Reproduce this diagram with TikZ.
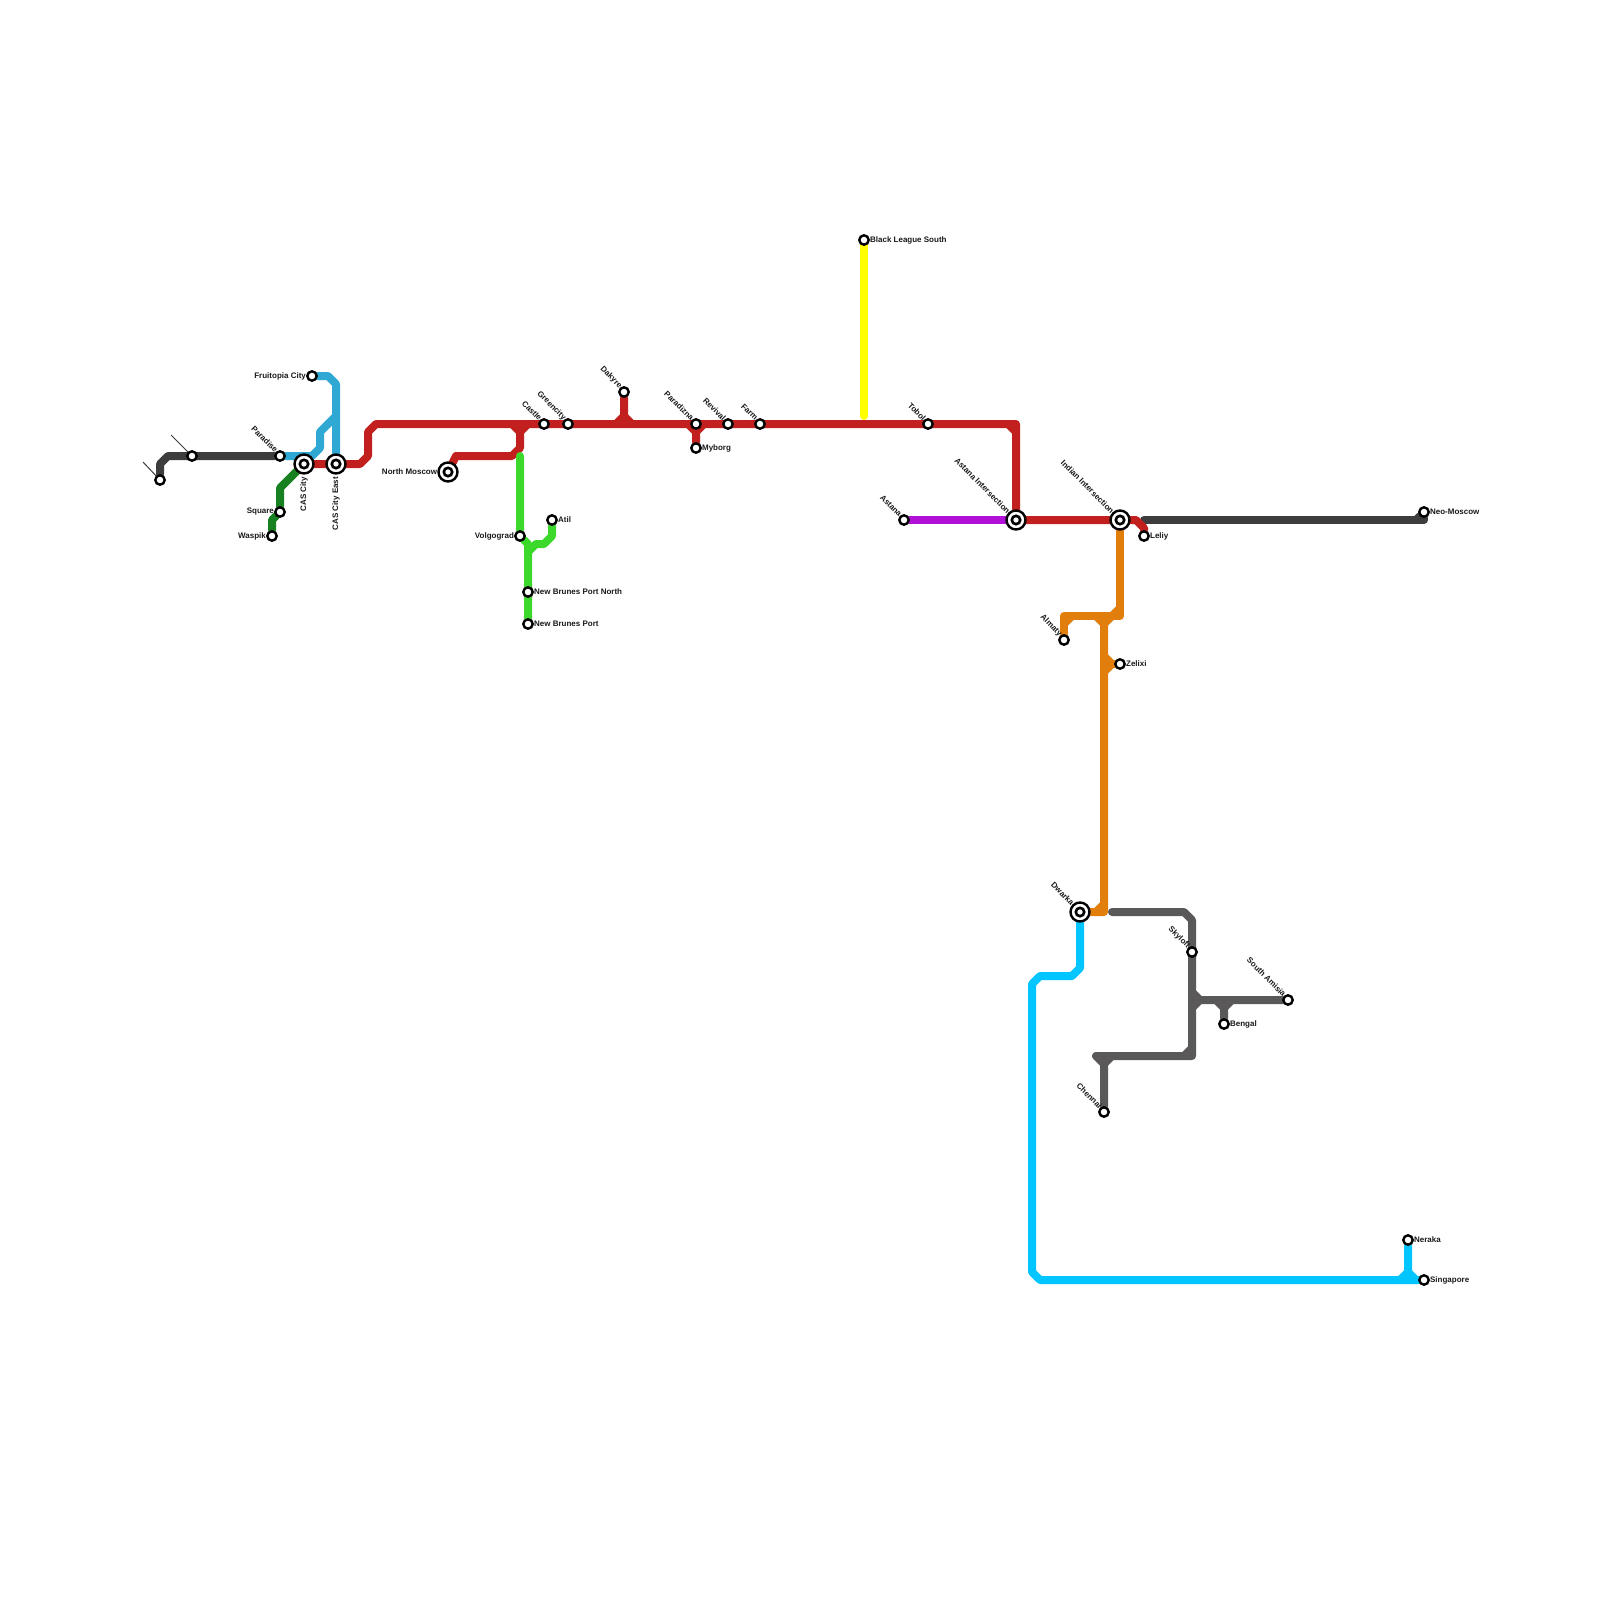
\documentclass[tikz,border=0pt]{standalone}
\usepackage{fontspec}
\usepackage{xcolor}
\setsansfont{Liberation Sans}
\usetikzlibrary{backgrounds}

\definecolor{lineCoal}{HTML}{3D3D3D}
\definecolor{lineGrey}{HTML}{5A5859}
\definecolor{lineBlue}{HTML}{2FA8D3}
\definecolor{lineForest}{HTML}{178020}
\definecolor{lineRed}{HTML}{C21F1F}
\definecolor{lineLime}{HTML}{3DD82C}
\definecolor{lineYellow}{HTML}{FFFF00}
\definecolor{linePurple}{HTML}{B010D8}
\definecolor{lineOrange}{HTML}{E27F0C}
\definecolor{lineCyan}{HTML}{00C5FF}

\tikzset{
    metro/.style={line width=8pt, line join=round, line cap=round},
    stop/.style={circle, draw=black, fill=white, line width=2.4pt, inner sep=0pt, minimum size=9.4pt},
    hub/.style={circle, draw=black, fill=white, line width=2.4pt, inner sep=0pt, minimum size=19pt,
        path picture={\draw[line width=2.6pt, black] (path picture bounding box.center) circle (4.2pt);}},
    lbl/.style={font=\sffamily\bfseries\fontsize{8}{8}\selectfont, text=black!90, inner sep=0pt},
    lblE/.style={label distance=1.3pt, label={[lbl, anchor=west]0:#1}},
    lblW/.style={label distance=2pt, label={[lbl, anchor=east]180:#1}},
    lblNW/.style={label distance=2pt, label={[lbl, rotate=-45, anchor=east]125:#1}},
    lblHub/.style={label distance=2.5pt, label={[lbl, rotate=-45, anchor=east]132:#1}},
    lblS/.style={label distance=3pt, label={[lbl, rotate=90, anchor=east, xshift=-2pt]-90:#1}},
}

\begin{document}
\begin{tikzpicture}[x=1pt, y=-1pt]
    \useasboundingbox (0,0) rectangle (1600,1600);

    % plain stops
    \node[stop] (farWest) at (160,480) {};
    \node[stop] (west) at (192,456) {};
    \foreach \x/\y/\name/\txt in {568/424/greencity/Greencity, 544/424/castle/Castle, 280/456/paradise/Paradise,
        624/392/dakyre/Dakyre, 696/424/paradizna/Paradizna, 728/424/revival/Revival, 760/424/farm/Farm,
        928/424/tobol/Tobol, 904/520/astana/Astana, 1064/640/almaty/Almaty, 1192/952/skyloft/Skyloft,
        1288/1000/amisia/South Amisia, 1104/1112/chennai/Chennai} {
        \node[stop, lblNW=\txt] (\name) at (\x,\y) {};
    }
    \foreach \x/\y/\name/\txt in {696/448/myborg/Myborg, 552/520/atil/Atil, 528/592/brunesNorth/New Brunes Port North,
        528/624/brunes/New Brunes Port, 864/240/league/Black League South, 1144/536/leliy/Leliy, 1120/664/zelixi/Zelixi,
        1424/512/neo/Neo-Moscow, 1224/1024/bengal/Bengal, 1408/1240/neraka/Neraka, 1424/1280/singapore/Singapore} {
        \node[stop, lblE=\txt] (\name) at (\x,\y) {};
    }
    \foreach \x/\y/\name/\txt in {312/376/fruitopia/Fruitopia City, 280/512/square/Square, 272/536/waspik/Waspik,
        520/536/volgograd/Volgograd} {
        \node[stop, lblW=\txt] (\name) at (\x,\y) {};
    }

    % interchanges
    \node[hub, lblS=CAS City] (casCity) at (304,464) {};
    \node[hub, lblS=CAS City East] (casEast) at (336,464) {};
    \node[hub, lblW=North Moscow] (moscow) at (448,472) {};
    \node[hub, lblHub=Astana Intersection] (astanaInt) at (1016,520) {};
    \node[hub, lblHub=Indian Intersection] (indian) at (1120,520) {};
    \node[hub, lblHub=Dwarka] (dwarka) at (1080,912) {};

    % free ends
    \coordinate (farWestEnd) at (143,462);
    \coordinate (westEnd) at (171,435);
    \coordinate (redEnd) at (1016,424);
    \coordinate (limeTop) at (520,456);
    \coordinate (yellowEnd) at (864,416);
    \coordinate (coalStart) at (1144,520);
    \coordinate (greyStart) at (1112,912);

    \begin{scope}[on background layer]
        \draw[lineCoal, line width=1pt] (farWest) -- (farWestEnd);
        \draw[lineCoal, line width=1pt] (west) -- (westEnd);

        \draw[metro, lineCoal] (farWest) -- (160,464) -- (168,456) -- (paradise);
        \draw[metro, lineCoal] (coalStart) -- (1424,520) -- (neo);
        \draw[metro, lineCoal] (1416,520) -- (neo);

        \draw[metro, lineBlue] (fruitopia) -- (328,376) -- (336,384) -- (casEast);
        \draw[metro, lineBlue] (paradise) -- (312,456) -- (320,448) -- (320,432) -- (336,416);

        \draw[metro, lineForest] (casCity) -- (280,488) -- (square) -- (272,520) -- (waspik);

        \draw[metro, lineRed] (casCity) -- (360,464) -- (368,456) -- (368,432) -- (376,424) -- (redEnd) -- (astanaInt);
        \draw[metro, lineRed] (1008,424) -- (1016,432);
        \draw[metro, lineRed] (astanaInt) -- (indian) -- (1136,520) -- (1144,528) -- (leliy);
        \draw[metro, lineRed] (moscow) -- (456,456) -- (512,456) -- (520,448) -- (520,432) -- (512,424);
        \draw[metro, lineRed] (520,432) -- (528,424);
        \draw[metro, lineRed] (dakyre) -- (624,416) -- (616,424);
        \draw[metro, lineRed] (624,416) -- (632,424);
        \draw[metro, lineRed] (myborg) -- (696,432) -- (688,424);
        \draw[metro, lineRed] (696,432) -- (704,424);

        \draw[metro, lineLime] (limeTop) -- (volgograd) -- (528,544) -- (brunes);
        \draw[metro, lineLime] (528,552) -- (536,544) -- (544,544) -- (552,536) -- (atil);

        \draw[metro, lineYellow] (league) -- (yellowEnd);
        \draw[metro, linePurple] (astana) -- (astanaInt);

        \draw[metro, lineOrange] (indian) -- (1120,616) -- (1064,616) -- (almaty);
        \draw[metro, lineOrange] (1112,616) -- (1120,608);
        \draw[metro, lineOrange] (1064,624) -- (1072,616);
        \draw[metro, lineOrange] (1096,616) -- (1104,624) -- (1104,912) -- (dwarka);
        \draw[metro, lineOrange] (1104,624) -- (1112,616);
        \draw[metro, lineOrange] (1096,912) -- (1104,904);
        \draw[metro, lineOrange] (1104,656) -- (1112,664) -- (1104,672);
        \draw[metro, lineOrange] (1112,664) -- (zelixi);

        \draw[metro, lineGrey] (greyStart) -- (1184,912) -- (1192,920) -- (1192,1056) -- (1096,1056) -- (1104,1064) -- (chennai);
        \draw[metro, lineGrey] (1104,1064) -- (1112,1056);
        \draw[metro, lineGrey] (1184,1056) -- (1192,1048);
        \draw[metro, lineGrey] (1192,992) -- (1200,1000) -- (amisia);
        \draw[metro, lineGrey] (1192,1008) -- (1200,1000);
        \draw[metro, lineGrey] (bengal) -- (1224,1008) -- (1216,1000);
        \draw[metro, lineGrey] (1224,1008) -- (1232,1000);

        \draw[metro, lineCyan] (dwarka) -- (1080,968) -- (1072,976) -- (1040,976) -- (1032,984) -- (1032,1272) -- (1040,1280) -- (singapore);
        \draw[metro, lineCyan] (neraka) -- (1408,1272) -- (1400,1280);
        \draw[metro, lineCyan] (1408,1272) -- (1416,1280);
    \end{scope}
\end{tikzpicture}
\end{document}
